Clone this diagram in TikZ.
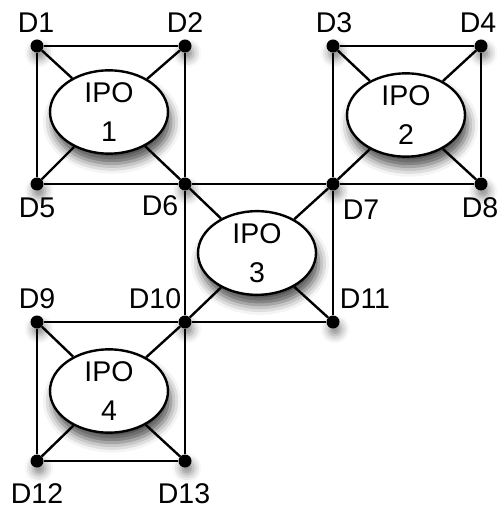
\documentclass[tikz,border=0pt]{standalone}
\usepackage{fontspec}
\setmainfont{Liberation Sans}
\usetikzlibrary{shapes.geometric,shadows.blur}
\begin{document}
\begin{tikzpicture}[x=1pt,y=-1pt,
  font=\fontsize{28.5}{39}\selectfont,
  dev/.style={circle,fill=black,inner sep=0pt,minimum size=13pt,
    blur shadow={shadow xshift=2pt,shadow yshift=-7pt,shadow blur radius=8pt,shadow opacity=45}},
  ipo/.style={ellipse,draw=black,line width=2.4pt,fill=white,inner sep=0pt,
    minimum width=118pt,minimum height=80pt,align=center,
    blur shadow={shadow xshift=3pt,shadow yshift=-10pt,shadow blur radius=10pt,shadow opacity=70}},
  lbl/.style={anchor=base,inner sep=0pt},
  link/.style={line width=2.4pt}]
\useasboundingbox (0,0) rectangle (498,510);

% processing units
\node[ipo] (ipo1) at (109,112) {IPO\\1};
\node[ipo] (ipo2) at (406,115) {IPO\\2};
\node[ipo] (ipo3) at (257,253) {IPO\\3};
\node[ipo] (ipo4) at (109,391) {IPO\\4};

% devices
\node[dev] (d1)  at (37,46)  {};
\node[dev] (d2)  at (185,46) {};
\node[dev] (d3)  at (333,46) {};
\node[dev] (d4)  at (481,46) {};
\node[dev] (d5)  at (37,184) {};
\node[dev] (d6)  at (185,184) {};
\node[dev] (d7)  at (333,184) {};
\node[dev] (d8)  at (481,184) {};
\node[dev] (d9)  at (37,322) {};
\node[dev] (d10) at (185,322) {};
\node[dev] (d11) at (333,322) {};
\node[dev] (d12) at (37,461) {};
\node[dev] (d13) at (185,461) {};

% device labels
\node[lbl] (l1)  at (36,33)   {D1};
\node[lbl] (l2)  at (185,33)  {D2};
\node[lbl] (l3)  at (334,33)  {D3};
\node[lbl] (l4)  at (478,33)  {D4};
\node[lbl] (l5)  at (37,218)  {D5};
\node[lbl] (l6)  at (160,216) {D6};
\node[lbl] (l7)  at (361,219) {D7};
\node[lbl] (l8)  at (480,218) {D8};
\node[lbl] (l9)  at (37,308)  {D9};
\node[lbl] (l10) at (155,308) {D10};
\node[lbl] (l11) at (365,308) {D11};
\node[lbl] (l12) at (37,503)  {D12};
\node[lbl] (l13) at (184,503) {D13};

% square edges
\draw[link] (d1) -- (d2) -- (d6) -- (d5) -- (d1);
\draw[link] (d3) -- (d4) -- (d8) -- (d7) -- (d3);
\draw[link] (d6) -- (d7) -- (d11) -- (d10) -- (d6);
\draw[link] (d9) -- (d10) -- (d13) -- (d12) -- (d9);

% device to unit links
\foreach \d in {d1,d2,d5,d6} \draw[link] (\d) -- (ipo1);
\foreach \d in {d3,d4,d7,d8} \draw[link] (\d) -- (ipo2);
\foreach \d in {d6,d7,d10,d11} \draw[link] (\d) -- (ipo3);
\foreach \d in {d9,d10,d12,d13} \draw[link] (\d) -- (ipo4);
\end{tikzpicture}
\end{document}
